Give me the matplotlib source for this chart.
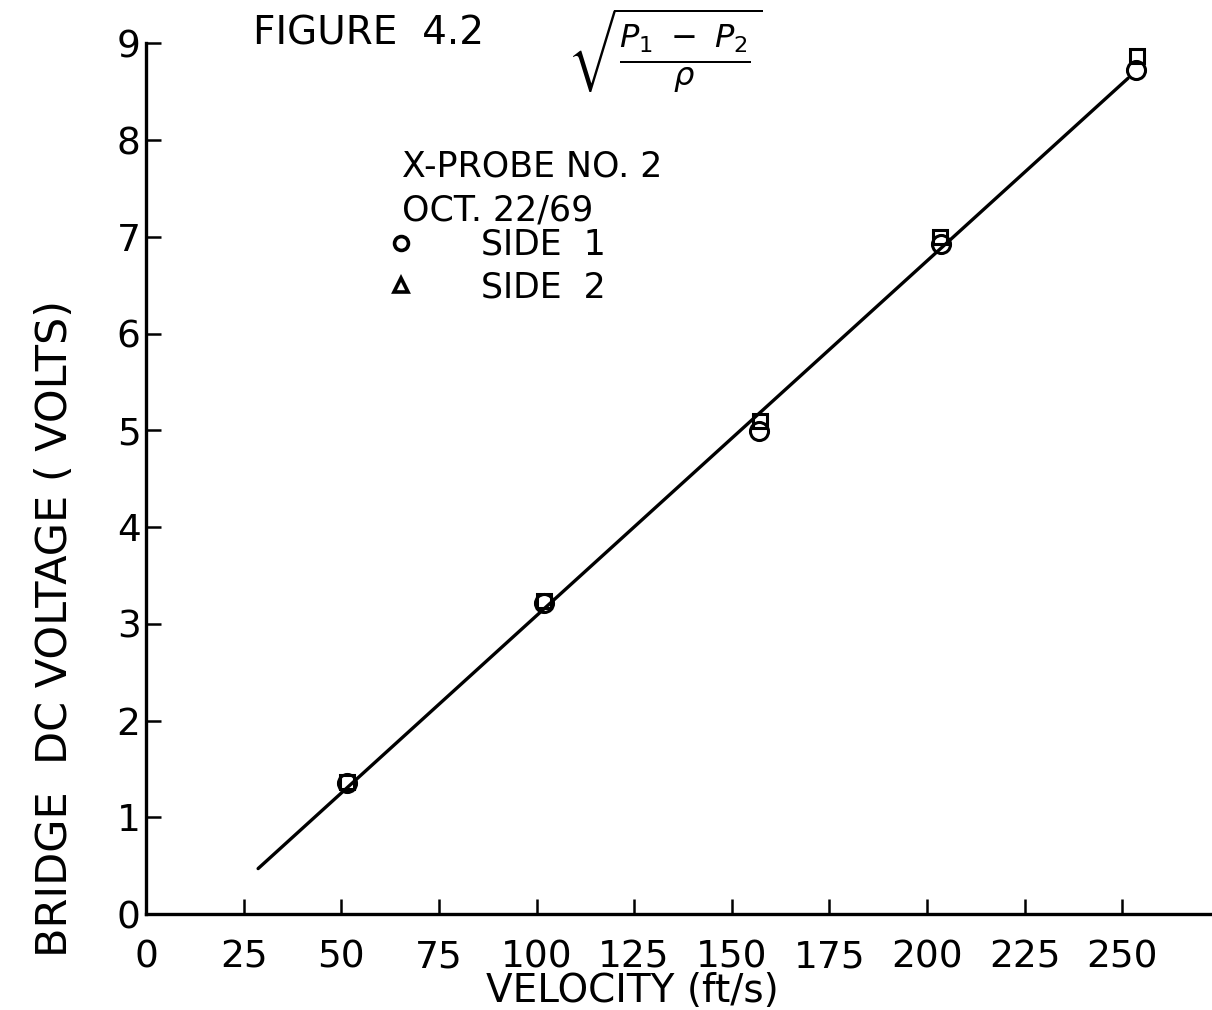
import matplotlib.pyplot as plt
from matplotlib.lines import Line2D

# measured points (velocity ft/s, bridge DC volts)
side1_v = [51.5, 101.8, 157.0, 203.6, 253.6]
side1_e = [1.35, 3.22, 4.99, 6.93, 8.73]
side2_v = [51.5, 101.8, 157.2, 203.4, 253.8]
side2_e = [1.36, 3.24, 5.10, 7.00, 8.87]

# hand-drawn calibration line end points
fit_v = [28.7, 251.5]
fit_e = [0.47, 8.64]

xticks = [0, 25, 50, 75, 100, 125, 150, 175, 200, 225, 250]
yticks = [0, 1, 2, 3, 4, 5, 6, 7, 8, 9]

plt.rcParams['font.family'] = ['DejaVu Sans']

fig = plt.figure(figsize=(12.12, 10.10), dpi=100)
ax = fig.add_axes([0.1205, 0.095, 0.8795, 0.862])

ax.plot(fit_v, fit_e, color='black', lw=2.4, solid_capstyle='round')
ax.plot(side1_v, side1_e, 'o', ms=13, mfc='none', mec='black', mew=2.2)
ax.plot(side2_v, side2_e, 's', ms=10.5, mfc='none', mec='black', mew=2.2)

ax.set_xlim(0, 273)
ax.set_ylim(0, 9)
ax.set_xticks(xticks)
ax.set_yticks(yticks)
ax.tick_params(direction='in', length=11, width=1.8, labelsize=27)
ax.tick_params(axis='x', pad=18)
ax.tick_params(axis='y', pad=4)
for s in ['top', 'right']:
    ax.spines[s].set_visible(False)
for s in ['left', 'bottom']:
    ax.spines[s].set_linewidth(2.4)

ax.set_xlabel('VELOCITY (ft/s)', fontsize=28)
ax.xaxis.set_label_coords(0.456, -0.066)
ax.set_ylabel('BRIDGE  DC VOLTAGE ( VOLTS)', fontsize=31)
ax.yaxis.set_label_coords(-0.066, 0.328)

# title and formula
fig.text(0.209, 0.967, 'FIGURE  4.2', fontsize=28, va='center', ha='left')
fig.text(0.468, 0.950, r'$\sqrt{\frac{P_1\ -\ P_2}{\rho}}$', fontsize=33,
         va='center', ha='left')

# legend block
ax.text(65.5, 7.73, 'X-PROBE NO. 2', fontsize=25, va='center')
ax.text(65.5, 7.27, 'OCT. 22/69', fontsize=25, va='center')
handles = [Line2D([], [], marker='o', ls='none', ms=10, mfc='none', mec='black', mew=2.6),
           Line2D([], [], marker='^', ls='none', ms=10, mfc='none', mec='black', mew=2.6)]
ax.legend(handles, ['SIDE  1', 'SIDE  2'], loc='upper left', bbox_to_anchor=(0.207, 0.808),
          frameon=False, fontsize=25, handletextpad=1.8, labelspacing=0.25, handlelength=1,
          borderpad=0)

fig.savefig('out.png', dpi=100)
